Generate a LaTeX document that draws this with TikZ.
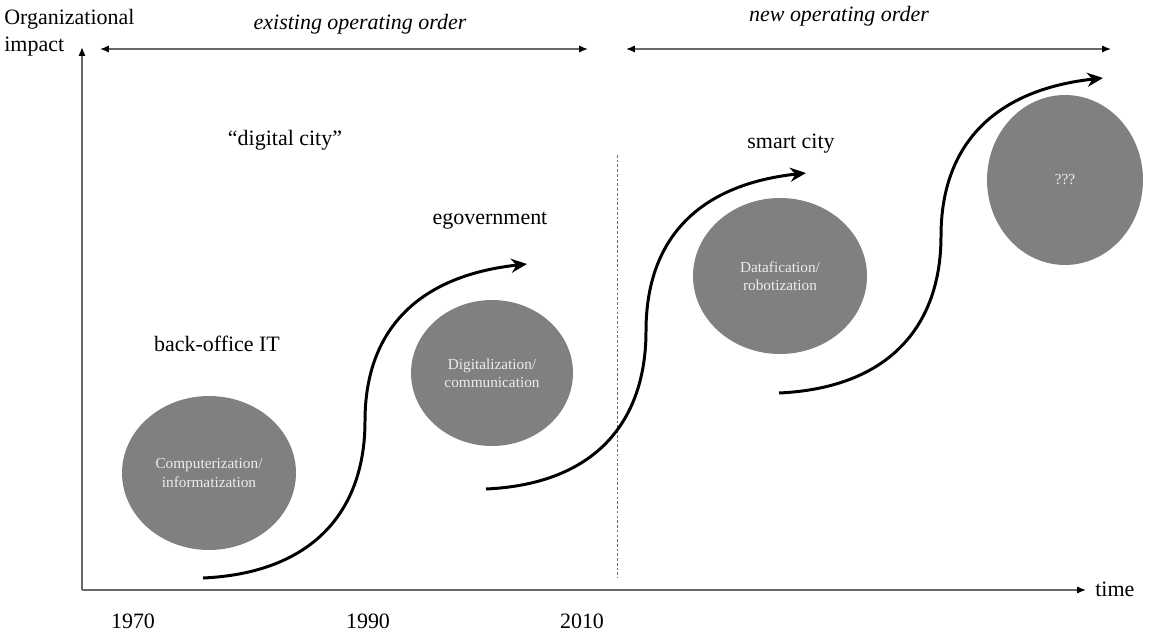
\documentclass[tikz,border=0pt]{standalone}
\usepackage{fontspec}
\setmainfont{Liberation Serif}
\usetikzlibrary{arrows.meta,positioning,shapes.geometric}
\definecolor{phasefill}{RGB}{128,128,128}
\definecolor{phasetext}{RGB}{236,236,236}
\definecolor{axisgray}{RGB}{105,105,105}
\tikzset{phase/.style={ellipse,fill=phasefill,text=phasetext,inner sep=0pt,align=center,font=\fontsize{8.7}{10.5}\selectfont}}
\tikzset{wave/.style={line width=1.7pt,-{Stealth[length=9pt,width=8pt]}}}
\tikzset{axis/.style={draw=axisgray,line width=0.8pt,-{Latex[length=5pt,width=4pt,color=black]}}}
\tikzset{span/.style={draw=axisgray,line width=0.8pt,{Latex[length=5pt,width=4pt,color=black]}-{Latex[length=5pt,width=4pt,color=black]}}}
\tikzset{lbl/.style={font=\fontsize{12.5}{15.4}\selectfont,inner sep=0pt}}

\begin{document}
\begin{tikzpicture}[x=0.02cm,y=-0.02cm]
	\useasboundingbox (0,0) rectangle (1166,634);

	% Achsen
	\coordinate (O) at (82,590);
	\coordinate (ytip) at (82,47);
	\coordinate (xtip) at (1086,590);
	\draw [axis] (O) -- (ytip);
	\draw [axis] (O) -- (xtip);
	\node [lbl,anchor=north west,align=left] (yname) at (4,9) {Organizational\\impact};
	\node [lbl,anchor=base west] (xname) at (1095,596) {time};
	\node [lbl,anchor=base] (y1970) at (133,628) {1970};
	\node [lbl,anchor=base] (y1990) at (368,628) {1990};
	\node [lbl,anchor=base] (y2010) at (582,628) {2010};

	% Ordnungen
	\coordinate (oldl) at (100,49);
	\coordinate (oldr) at (588,49);
	\coordinate (newl) at (626,49);
	\coordinate (newr) at (1111,49);
	\draw [span] (oldl) -- (oldr);
	\draw [span] (newl) -- (newr);
	\node [lbl,anchor=base] (oldorder) at (360,30) {\itshape existing operating order};
	\node [lbl,anchor=base] (neworder) at (839,22) {\itshape new operating order};
	\coordinate (cuttop) at (617,155);
	\coordinate (cutbot) at (617,578);
	\draw [axisgray,line width=0.5pt,dash pattern=on 1.5pt off 1.2pt] (cuttop) -- (cutbot);

	% Phasen
	\node [phase,minimum width=3.48cm,minimum height=3.08cm] (comp) at (209,473) {Computerization/\\informatization};
	\node [phase,minimum width=3.24cm,minimum height=2.92cm] (digi) at (492,373) {Digitalization/\\communication};
	\node [phase,minimum width=3.48cm,minimum height=3.12cm] (data) at (780,276) {Datafication/\\robotization};
	\node [phase,minimum width=3.12cm,minimum height=3.4cm] (next) at (1065,180) {???};

	\node [lbl,anchor=base] (backoffice) at (217,352) {back-office IT};
	\node [lbl,anchor=base] (digicity) at (285,146) {``digital city''};
	\node [lbl,anchor=base] (egov) at (490,225) {egovernment};
	\node [lbl,anchor=base] (smart) at (791,149) {smart city};

	% S-Kurven
	\coordinate (w1a) at (203,578);
	\coordinate (w1b) at (365,421);
	\coordinate (w1c) at (527,264);
	\draw [wave] (w1a) .. controls +(110,-5) and +(0,90) .. (w1b) .. controls +(0,-90) and +(-110,12) .. (w1c);
	\coordinate (w2a) at (486,489);
	\coordinate (w2b) at (646,331);
	\coordinate (w2c) at (806,173);
	\draw [wave] (w2a) .. controls +(110,-5) and +(0,90) .. (w2b) .. controls +(0,-90) and +(-110,12) .. (w2c);
	\coordinate (w3a) at (779,393);
	\coordinate (w3b) at (941,236);
	\coordinate (w3c) at (1103,78);
	\draw [wave] (w3a) .. controls +(110,-5) and +(0,90) .. (w3b) .. controls +(0,-90) and +(-110,12) .. (w3c);
\end{tikzpicture}
\end{document}
